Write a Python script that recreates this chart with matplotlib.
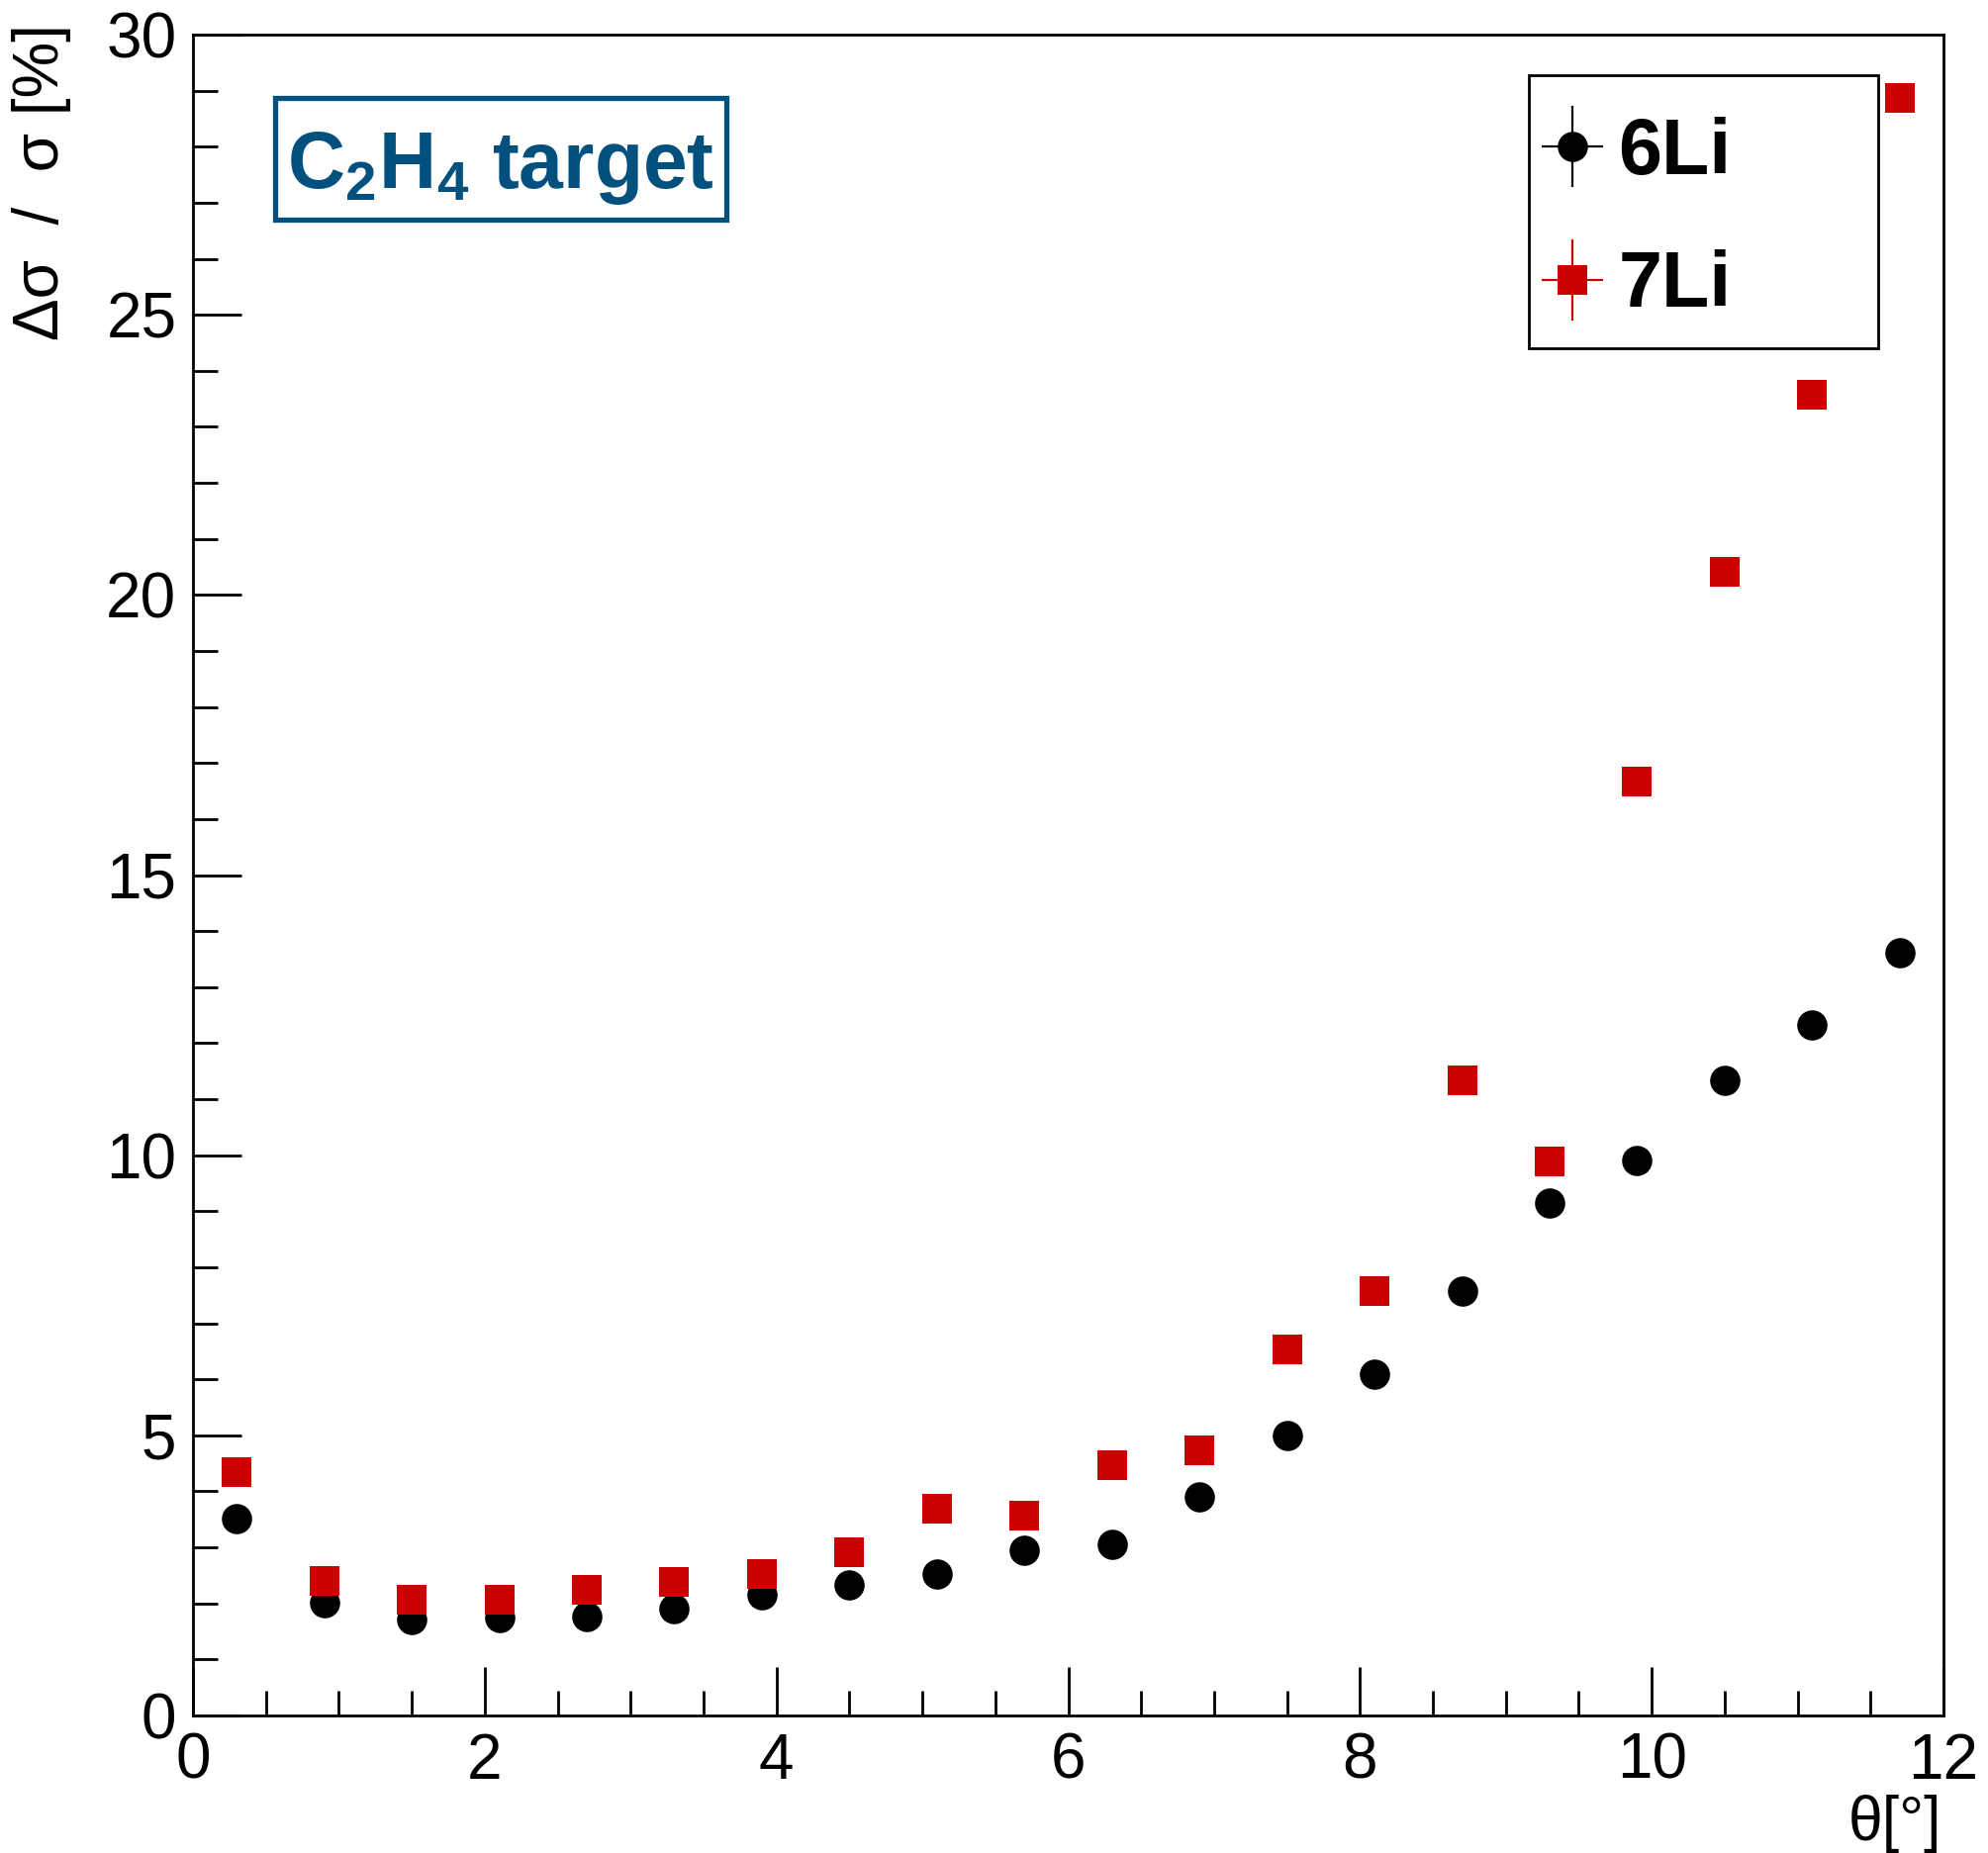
import matplotlib
matplotlib.use("Agg")
import matplotlib.pyplot as plt
from matplotlib.legend_handler import HandlerErrorbar
from matplotlib.patches import Rectangle
from matplotlib.ticker import MultipleLocator

# data
theta = [0.3, 0.9, 1.5, 2.1, 2.7, 3.3, 3.9, 4.5, 5.1, 5.7,
         6.3, 6.9, 7.5, 8.1, 8.7, 9.3, 9.9, 10.5, 11.1, 11.7]
li6 = [3.51, 2.01, 1.72, 1.74, 1.76, 1.90, 2.15, 2.33, 2.53, 2.94,
       3.05, 3.91, 5.00, 6.09, 7.58, 9.14, 9.91, 11.33, 12.33, 13.62]
li7 = [4.34, 2.40, 2.06, 2.06, 2.24, 2.38, 2.53, 2.92, 3.69, 3.57,
       4.46, 4.73, 6.54, 7.58, 11.33, 9.89, 16.67, 20.41, 23.57, 28.87]
err0 = [0.0] * len(theta)  # error bars hidden under the markers

labels = ["6Li", "7Li"]
red = "#cc0000"
blue = "#01507e"

plt.rcParams['font.family'] = ['Liberation Sans', 'DejaVu Sans']
plt.rcParams['mathtext.fontset'] = 'custom'
plt.rcParams['mathtext.rm'] = 'Liberation Sans:bold'
plt.rcParams['mathtext.default'] = 'rm'

W, H = 2009, 1873
fig = plt.figure(figsize=(W / 100, H / 100), dpi=100)
ax = fig.add_axes([195 / W, 1 - 1734 / H, (1964 - 195) / W, (1734 - 35) / H])

e6 = ax.errorbar(theta, li6, xerr=err0, yerr=err0, fmt='o', color='black',
                 ms=22, mew=0, elinewidth=1.6, capsize=0, label=labels[0])
e7 = ax.errorbar(theta, li7, xerr=err0, yerr=err0, fmt='s', color=red,
                 ms=21, mew=0, elinewidth=1.6, capsize=0, label=labels[1])

ax.set_xlim(0, 12)
ax.set_ylim(0, 30)
ax.xaxis.set_major_locator(MultipleLocator(2))
ax.xaxis.set_minor_locator(MultipleLocator(0.5))
ax.yaxis.set_major_locator(MultipleLocator(5))
ax.yaxis.set_minor_locator(MultipleLocator(1))
ax.tick_params(which='both', direction='in', width=2, top=False, right=False,
               labelsize=46)
ax.tick_params(which='major', length=35)
ax.tick_params(which='minor', length=18)
ax.tick_params(axis='x', pad=12)
ax.tick_params(axis='y', pad=12)
for sp in ax.spines.values():
    sp.set_linewidth(2)

# axis titles (ROOT style, at the ends)
fig.text(42 / W, 1 - 24 / H, "Δσ  /  σ [%]", rotation=90, ha='center', va='top',
         fontsize=46)
fig.text(1962 / W, 0.0, "θ[°]", ha='right', va='bottom', fontsize=45)

# legend
leg = ax.legend(handles=[e6, e7], loc='upper left',
                bbox_to_anchor=(1558 / W, 1 - 118 / H), bbox_transform=fig.transFigure,
                frameon=False, prop={'weight': 'bold', 'size': 57}, numpoints=1,
                handler_map={type(e6): HandlerErrorbar(xerr_size=0.39, yerr_size=0.52)},
                handlelength=0.78, handletextpad=0.2, labelspacing=0.75,
                borderpad=0, borderaxespad=0)
fig.patches.append(Rectangle((1545 / W, 1 - 352 / H), 353 / W, 276 / H,
                             transform=fig.transFigure, fill=False,
                             edgecolor='black', linewidth=2))

# target label
fig.patches.append(Rectangle((278 / W, 1 - 222 / H), 456 / W, 123 / H,
                             transform=fig.transFigure, fill=False,
                             edgecolor=blue, linewidth=3.8))
fig.text(506 / W, 1 - 190 / H, r"C$_2$H$_4$ target", ha='center', va='baseline',
         color=blue, fontsize=58, fontweight='bold')

fig.savefig("out.png", dpi=100)
